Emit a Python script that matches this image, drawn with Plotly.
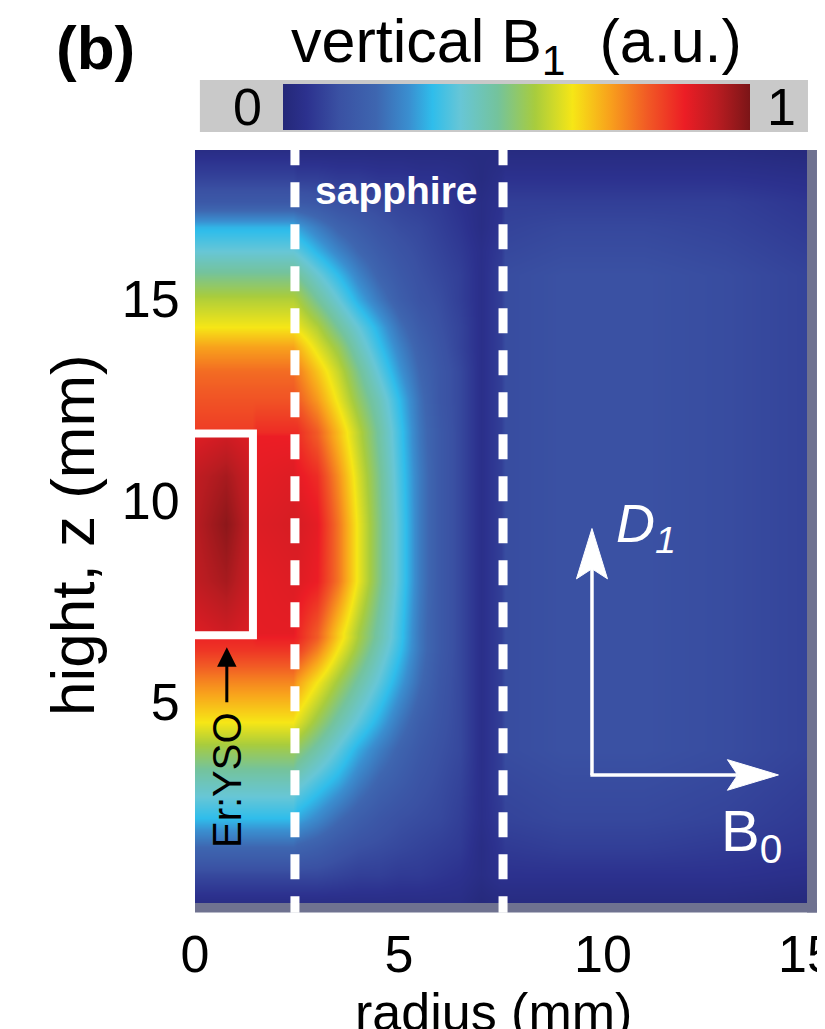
import plotly.graph_objects as go

# ---- data ----
RADIUS_MM = [0, 0.75, 1.40, 1.50, 2.4, 2.5, 3.0, 3.5, 4.0, 4.5, 5.0, 5.5, 6.0, 6.5, 7.0, 7.5, 7.6, 9, 11, 13, 15]
HEIGHT_MM = [0, 0.7, 1.4, 2.1, 3.0, 3.8, 4.5, 5.5, 6.3, 6.6, 6.7, 8.0, 9.4, 10.6, 11.6, 11.7,
             12.5, 13.2, 13.8, 14.3, 15.0, 15.6, 16.2, 16.8, 17.4, 18.0, 18.7]

B1 = [
    [.03, .03, .03, .03, .03, .03, .03, .03, .03, .03, .03, .03, .03, .03, .01, .02, .02, .02, .02, .02, .01],
    [.10, .10, .10, .10, .10, .10, .10, .09, .08, .08, .07, .07, .06, .05, .03, .05, .05, .05, .05, .05, .04],
    [.20, .20, .20, .20, .20, .19, .17, .14, .12, .11, .10, .09, .08, .07, .03, .06, .07, .08, .08, .07, .06],
    [.32, .32, .32, .32, .32, .30, .26, .21, .17, .14, .12, .11, .10, .08, .04, .07, .09, .10, .10, .09, .07],
    [.42, .42, .42, .42, .42, .40, .35, .30, .24, .19, .16, .13, .11, .09, .04, .08, .10, .11, .11, .10, .08],
    [.52, .52, .52, .52, .52, .50, .44, .37, .30, .24, .19, .15, .12, .10, .04, .08, .11, .12, .12, .11, .09],
    [.62, .62, .62, .62, .62, .60, .52, .44, .37, .30, .23, .17, .13, .10, .04, .08, .11, .12, .12, .11, .09],
    [.73, .73, .73, .73, .73, .70, .62, .53, .45, .37, .29, .21, .14, .10, .04, .08, .11, .12, .12, .11, .09],
    [.83, .83, .83, .83, .83, .82, .74, .62, .52, .42, .33, .23, .15, .10, .04, .08, .11, .12, .12, .11, .09],
    [.85, .85, .85, .86, .86, .85, .78, .65, .54, .44, .34, .23, .15, .10, .04, .08, .11, .12, .12, .11, .09],
    [.88, .90, .88, .87, .87, .85, .78, .65, .54, .44, .34, .23, .15, .10, .04, .08, .11, .12, .12, .11, .09],
    [.92, .95, .90, .87, .88, .88, .86, .75, .61, .48, .36, .24, .15, .10, .04, .08, .11, .12, .12, .11, .09],
    [.93, .98, .91, .88, .89, .89, .87, .75, .61, .48, .36, .24, .15, .10, .04, .08, .11, .12, .12, .11, .09],
    [.92, .95, .90, .87, .88, .87, .84, .72, .59, .47, .35, .24, .15, .10, .04, .08, .11, .12, .12, .11, .09],
    [.88, .90, .88, .86, .86, .84, .78, .67, .56, .45, .34, .23, .15, .10, .04, .08, .11, .12, .12, .11, .09],
    [.82, .82, .82, .84, .84, .84, .78, .67, .56, .45, .34, .23, .15, .10, .04, .08, .11, .12, .12, .11, .09],
    [.79, .79, .79, .79, .79, .78, .71, .61, .51, .42, .32, .22, .14, .10, .04, .08, .11, .12, .12, .11, .09],
    [.76, .76, .76, .76, .76, .74, .66, .57, .47, .37, .28, .20, .14, .10, .04, .08, .11, .12, .12, .11, .09],
    [.70, .70, .70, .70, .70, .68, .60, .52, .42, .33, .25, .18, .13, .09, .04, .08, .11, .12, .12, .11, .09],
    [.62, .62, .62, .62, .62, .61, .55, .46, .38, .30, .22, .16, .12, .09, .04, .08, .11, .12, .12, .11, .09],
    [.55, .55, .55, .55, .55, .54, .46, .38, .30, .23, .17, .13, .11, .08, .04, .08, .11, .12, .12, .11, .09],
    [.47, .47, .47, .47, .47, .46, .39, .32, .25, .19, .15, .12, .10, .08, .04, .08, .11, .12, .12, .11, .09],
    [.38, .38, .38, .38, .38, .37, .31, .25, .20, .16, .13, .11, .09, .07, .04, .07, .10, .11, .11, .10, .08],
    [.31, .31, .31, .31, .31, .29, .24, .19, .16, .13, .11, .10, .08, .06, .03, .06, .09, .10, .10, .09, .07],
    [.15, .15, .15, .15, .15, .15, .14, .12, .11, .10, .09, .08, .07, .05, .03, .05, .08, .08, .08, .08, .06],
    [.09, .09, .09, .09, .09, .08, .08, .07, .07, .06, .06, .05, .05, .04, .02, .04, .05, .05, .05, .05, .04],
    [.03, .03, .03, .03, .03, .02, .02, .02, .02, .02, .02, .02, .02, .02, .02, .02, .02, .02, .02, .02, .01],
]

X_RANGE = [0, 15]
Y_RANGE = [0, 18.7]
X_TICKS = [0, 5, 10, 15]
Y_TICKS = [5, 10, 15]
SAPPHIRE_EDGES = [2.45, 7.55]

COLORSCALE = [
    [0.00, "#242878"], [0.05, "#2c318e"], [0.12, "#3a51a3"], [0.20, "#3e66b0"],
    [0.27, "#3a8fd0"], [0.32, "#2fbdeb"], [0.38, "#67c6d6"], [0.46, "#74c39c"],
    [0.54, "#a8cc3d"], [0.62, "#f6e616"], [0.70, "#f8a11c"], [0.78, "#f15a25"],
    [0.86, "#ec1d25"], [0.93, "#b91c21"], [1.00, "#7b1517"],
]

FONT = "Liberation Sans, Arial, Helvetica, sans-serif"

fig = go.Figure()
fig.add_trace(go.Heatmap(
    x=RADIUS_MM, y=HEIGHT_MM, z=B1, zmin=0, zmax=1, zsmooth="best",
    colorscale=COLORSCALE, hoverinfo="skip",
    colorbar=dict(orientation="h", x=0.526, xanchor="center", y=1.0876, yanchor="top",
                  len=467, lenmode="pixels", thickness=46, xpad=0, ypad=0,
                  outlinewidth=0, showticklabels=False, ticks=""),
))

shapes = []
# gray box behind colorbar
shapes.append(dict(type="rect", xref="paper", yref="paper", x0=0.008, x1=1.0016, y0=1.0239, y1=1.093,
                   fillcolor="#c9c9c9", line=dict(width=0), layer="below"))
# shading bands right & bottom of the map
shapes.append(dict(type="rect", xref="paper", yref="paper", x0=0, x1=1.0163, y0=-0.0125, y1=0.0,
                   fillcolor="#6f7290", line=dict(width=0), layer="below"))
shapes.append(dict(type="rect", xref="paper", yref="paper", x0=1.0, x1=1.0163, y0=-0.0125, y1=1.0,
                   fillcolor="#6f7290", line=dict(width=0), layer="below"))
# sapphire boundaries (converted to paper fraction so they may poke out of the map)
for xe in SAPPHIRE_EDGES:
    xp = (xe - X_RANGE[0]) / (X_RANGE[1] - X_RANGE[0])
    shapes.append(dict(type="line", xref="paper", yref="paper", x0=xp, x1=xp, y0=1.013, y1=-0.013,
                       line=dict(color="white", width=9, dash="25px,17px"), layer="above"))
# Er:YSO crystal outline
shapes.append(dict(type="path", xref="x", yref="y",
                   path="M -0.1,11.66 L 1.42,11.66 L 1.42,6.65 L -0.1,6.65",
                   line=dict(color="white", width=8), layer="above"))
# D1 / B0 arrows
shapes.append(dict(type="line", xref="x", yref="y", x0=9.73, x1=9.73, y0=3.18, y1=8.4,
                   line=dict(color="white", width=3.5)))
shapes.append(dict(type="line", xref="x", yref="y", x0=9.69, x1=13.3, y0=3.18, y1=3.18,
                   line=dict(color="white", width=3.5)))
shapes.append(dict(type="path", xref="x", yref="y",
                   path="M 9.35,8.05 L 9.73,9.3 L 10.11,8.05 L 9.73,8.3 Z",
                   fillcolor="white", line=dict(color="white", width=1)))
shapes.append(dict(type="path", xref="x", yref="y",
                   path="M 13.05,2.8 L 14.3,3.18 L 13.05,3.56 L 13.3,3.18 Z",
                   fillcolor="white", line=dict(color="white", width=1)))


def pa(text, x, y, size, **kw):
    return dict(text=text, x=x, y=y, xref="paper", yref="paper", showarrow=False,
                xanchor="center", yanchor="middle",
                font=dict(family=FONT, size=size, color="black"), **kw)


annotations = [
    pa("<b>(b)</b>", -0.163, 1.1355, 62),
    pa("vertical B<sub>1</sub>  (a.u.)", 0.526, 1.139, 61),
    pa("0", 0.085, 1.057, 52),
    pa("1", 0.959, 1.057, 52),
    pa("radius (mm)", 0.487, -0.145, 52),
    pa("hight, z (mm)", -0.199, 0.489, 62, textangle=-90),
    dict(text="<b>sapphire</b>", x=4.95, y=17.7, xref="x", yref="y", showarrow=False,
         font=dict(family=FONT, size=39, color="white")),
    dict(text="Er:YSO", x=0.78, y=3.05, xref="x", yref="y", showarrow=False, textangle=-90,
         font=dict(family=FONT, size=40, color="black")),
    dict(text="", x=0.78, y=6.35, ax=0.78, ay=4.95, xref="x", yref="y", axref="x", ayref="y",
         showarrow=True, arrowhead=2, arrowsize=1.3, arrowwidth=3, arrowcolor="black"),
    dict(text="<i>D<sub>1</sub></i>", x=11.05, y=9.35, xref="x", yref="y", showarrow=False,
         font=dict(family=FONT, size=54, color="white")),
    dict(text="B<sub>0</sub>", x=13.65, y=1.7, xref="x", yref="y", showarrow=False,
         font=dict(family=FONT, size=58, color="white")),
]

fig.update_layout(
    width=817, height=1021,
    margin=dict(l=187, r=18, t=142, b=126, autoexpand=False),
    paper_bgcolor="white", plot_bgcolor="white",
    shapes=shapes, annotations=annotations, showlegend=False,
    font=dict(family=FONT, color="black"),
)
fig.update_xaxes(range=X_RANGE, tickvals=X_TICKS, showgrid=False, zeroline=False, showline=False,
                 ticks="outside", ticklen=6, tickcolor="rgba(0,0,0,0)", ticklabeloverflow="allow",
                 tickfont=dict(family=FONT, size=52, color="black"))
fig.update_yaxes(range=Y_RANGE, tickvals=Y_TICKS, showgrid=False, zeroline=False, showline=False,
                 ticks="outside", ticklen=4, tickcolor="rgba(0,0,0,0)",
                 tickfont=dict(family=FONT, size=52, color="black"))

fig.write_html("out.html")
